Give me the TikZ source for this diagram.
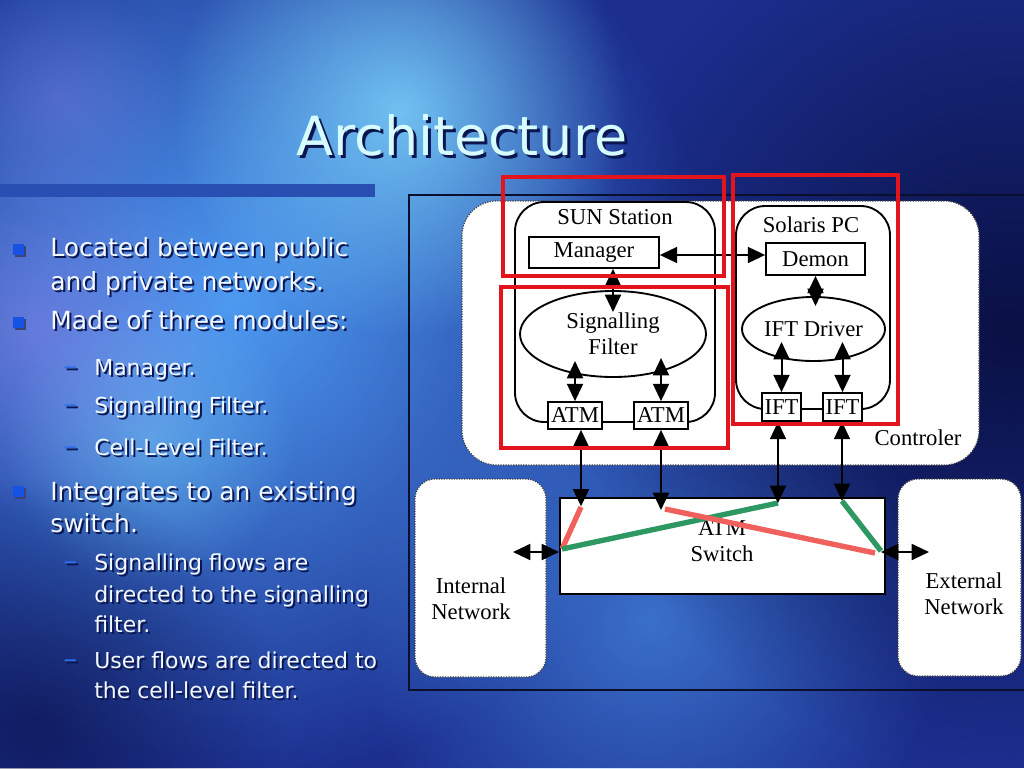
\documentclass[tikz,border=0pt]{standalone}
\usepackage{fontspec}
\newfontfamily\sansf{DejaVu Sans}
\newfontfamily\serf{Liberation Serif}
\usetikzlibrary{arrows.meta,shapes.geometric,fadings}
\definecolor{bgbase}{HTML}{1C2F8F}
\definecolor{glowA}{HTML}{4E9BF2}
\definecolor{glowB}{HTML}{7FD9FF}
\definecolor{glowP}{HTML}{9C8CF4}
\definecolor{darkR}{HTML}{080D3C}
\definecolor{barc}{HTML}{2A4FB2}
\definecolor{titlec}{HTML}{D6FCFF}
\definecolor{textc}{HTML}{F2F8FF}
\definecolor{shadowc}{HTML}{0B1650}
\definecolor{bulletc}{HTML}{1652E4}
\definecolor{dashc}{HTML}{2F6EE6}
\definecolor{boxred}{HTML}{E3141B}
\definecolor{flowr}{HTML}{F0605C}
\definecolor{flowg}{HTML}{2E9862}
\definecolor{framec}{HTML}{0A0F2E}
\tikzfading[name=glowfade, inner color=transparent!0, outer color=transparent!100]
\begin{document}
\begin{tikzpicture}[x=0.75pt,y=-0.75pt,
  dtext/.style={font=\serf\fontsize{17}{19.5}\selectfont, text=black},
  wbox/.style={draw=black, line width=1.3pt, fill=white, inner sep=0pt, dtext},
  dotbox/.style={fill=white, draw=black!75, densely dotted, line width=0.9pt, inner sep=0pt},
  modbox/.style={draw=black, line width=1.4pt, fill=white, rounded corners=22pt, inner sep=0pt},
  oval/.style={ellipse, draw=black, line width=1.4pt, fill=white, inner sep=0pt, dtext, align=center},
  dbl/.style={{Triangle[length=13pt,width=12pt]}-{Triangle[length=13pt,width=12pt]}, line width=1.5pt},
  redbox/.style={draw=boxred, line width=2.3pt, inner sep=0pt},
  flowred/.style={draw=flowr, line width=4pt},
  flowgreen/.style={draw=flowg, line width=4pt},
  bodyt/.style={font=\sansf\fontsize{18.75}{22}\selectfont, anchor=base west, inner sep=0pt},
  subt/.style={font=\sansf\fontsize{16.5}{20}\selectfont, anchor=base west, inner sep=0pt},
  dasht/.style={font=\sansf\fontsize{21}{22}\selectfont, anchor=base west, inner sep=0pt},
  bulletsq/.style={fill=bulletc, minimum size=8.25pt, inner sep=0pt},
  bulletsh/.style={fill=shadowc!80, minimum size=8.25pt, inner sep=0pt}]
\useasboundingbox (0,0) rectangle (1024,768);
\clip (0,0) rectangle (1024,768);
% background
\fill[bgbase] (0,0) rectangle (1024,768);
\fill[glowA, path fading=glowfade] (230,300) circle (360pt);
\fill[glowA, path fading=glowfade, fill opacity=0.6] (650,620) circle (220pt);
\fill[glowB, path fading=glowfade, fill opacity=0.8] (400,110) circle (170pt);
\fill[glowB, path fading=glowfade, fill opacity=0.45] (150,440) circle (110pt);
\fill[glowP, path fading=glowfade, fill opacity=0.45] (40,330) circle (140pt);
\fill[glowP, path fading=glowfade, fill opacity=0.3] (60,100) circle (90pt);
\fill[darkR, path fading=glowfade, fill opacity=0.9] (1010,330) circle (330pt);
\fill[darkR, path fading=glowfade, fill opacity=0.55] (40,720) circle (180pt);
% title and bar
\node[font=\sansf\fontsize{40.5}{44}\selectfont, text=shadowc, anchor=base, inner sep=0pt] (ttls) at (465,158) {Architecture};
\node[font=\sansf\fontsize{40.5}{44}\selectfont, text=titlec, anchor=base, inner sep=0pt] (ttl) at (462,155) {Architecture};
\fill[barc] (0,184) rectangle (375,197);
% bullets
\node[bulletsh] (b1s) at (20,251) {};
\node[bulletsq] (b1) at (18.5,249) {};
\node[bulletsh] (b2s) at (20,324.5) {};
\node[bulletsq] (b2) at (18.5,322.5) {};
\node[bulletsh] (b3s) at (20,493) {};
\node[bulletsq] (b3) at (18.5,491) {};
% body text with shadow
\foreach \o/\tc/\dc/\nm in {2/shadowc/shadowc/s, 0/textc/dashc/t} {
 \begin{scope}[shift={(\o,\o)}]
  \node[bodyt, text=\tc] (L\nm1) at (50,256) {Located between public};
  \node[bodyt, text=\tc] (L\nm2) at (50,290) {and private networks.};
  \node[bodyt, text=\tc] (L\nm3) at (50,329) {Made of three modules:};
  \node[dasht, text=\dc] (D\nm1) at (63,375) {–};
  \node[subt, text=\tc] (L\nm4) at (94,375) {Manager.};
  \node[dasht, text=\dc] (D\nm2) at (63,413) {–};
  \node[subt, text=\tc] (L\nm5) at (94,413) {Signalling Filter.};
  \node[dasht, text=\dc] (D\nm3) at (63,455) {–};
  \node[subt, text=\tc] (L\nm6) at (94,455) {Cell-Level Filter.};
  \node[bodyt, text=\tc] (L\nm7) at (50,500) {Integrates to an existing};
  \node[bodyt, text=\tc] (L\nm8) at (50,532) {switch.};
  \node[dasht, text=\dc] (D\nm4) at (63,570) {–};
  \node[subt, text=\tc] (L\nm9) at (94,570) {Signalling flows are};
  \node[subt, text=\tc] (L\nm10) at (94,602) {directed to the signalling};
  \node[subt, text=\tc] (L\nm11) at (94,632) {filter.};
  \node[dasht, text=\dc] (D\nm5) at (63,668) {–};
  \node[subt, text=\tc] (L\nm12) at (94,668) {User flows are directed to};
  \node[subt, text=\tc] (L\nm13) at (94,698) {the cell-level filter.};
 \end{scope}
}
% diagram frame
\draw[framec, line width=0.8pt] (409,195) rectangle (1040,690);
% controller and networks
\node[dotbox, rounded corners=26pt, minimum width=387.75pt, minimum height=198pt] (ctrl) at (720.5,333) {};
\node[dtext, anchor=center, inner sep=0pt] (ctrllbl) at (918,438) {Controler};
\node[dotbox, rounded corners=15pt, minimum width=98.25pt, minimum height=148.5pt] (intnet) at (480.5,578) {};
\node[dtext, align=center, inner sep=0pt] (intlbl) at (471,599) {Internal\\Network};
\node[dotbox, rounded corners=15pt, minimum width=92.25pt, minimum height=147.75pt] (extnet) at (959.5,577.5) {};
\node[dtext, align=center, inner sep=0pt] (extlbl) at (964,594) {External\\Network};
% switch
\node[draw=black, line width=1.5pt, fill=white, minimum width=243.75pt, minimum height=72pt, inner sep=0pt] (switch) at (722.5,546) {};
\node[dtext, align=center, inner sep=0pt] (swlbl) at (722,541) {ATM\\Switch};
% module boxes
\node[modbox, minimum width=150pt, minimum height=165pt] (sun) at (615,312) {};
\node[dtext, inner sep=0pt] (sunlbl) at (615,217) {SUN Station};
\node[modbox, minimum width=115.5pt, minimum height=152.25pt] (sol) at (813,307.5) {};
\node[dtext, inner sep=0pt] (sollbl) at (811,225) {Solaris PC};
% inner nodes
\node[wbox, minimum width=97.5pt, minimum height=23.25pt] (manager) at (594,252.5) {Manager};
\node[wbox, minimum width=74.25pt, minimum height=24pt] (demon) at (815.5,259) {Demon};
\node[oval, minimum width=139.5pt, minimum height=64.5pt] (sigf) at (613,334) {Signalling\\Filter};
\node[oval, minimum width=107.25pt, minimum height=48pt] (iftd) at (813.5,329) {IFT Driver};
\node[wbox, minimum width=40.5pt, minimum height=20.25pt] (atm1) at (575,415.5) {ATM};
\node[wbox, minimum width=40.5pt, minimum height=20.25pt] (atm2) at (661,415.5) {ATM};
\node[wbox, minimum width=29.25pt, minimum height=21pt] (ift1) at (781.5,407) {IFT};
\node[wbox, minimum width=29.25pt, minimum height=21pt] (ift2) at (842.5,407) {IFT};
% inner arrows (tips reach into the ovals)
\draw[dbl] (manager.east |- 0,255) -- (demon.west |- 0,255);
\draw[dbl] (manager.south -| sigf.north) -- (sigf.north |- 0,312);
\draw[dbl] (demon.south) -- (demon.south |- 0,306);
\draw[dbl] (atm1.north) -- (atm1.north |- 0,361);
\draw[dbl] (atm2.north) -- (atm2.north |- 0,358);
\draw[dbl] (ift1.north) -- (ift1.north |- 0,342);
\draw[dbl] (ift2.north) -- (ift2.north |- 0,342);
% flows in the switch
\coordinate (fa) at (581,507);
\coordinate (fb) at (562,549);
\coordinate (fc) at (778,503);
\coordinate (fd) at (665,509);
\coordinate (fe) at (875,553);
\coordinate (ff) at (842,501);
\coordinate (fg) at (881,551);
\draw[flowred] (fa) -- (fb);
\draw[flowgreen] (fb) -- (fc);
\draw[flowred] (fd) -- (fe);
\draw[flowgreen] (ff) -- (fg);
% vertical links to the switch
\draw[dbl] (atm1.south -| fa) -- ([yshift=0.5pt]fa);
\draw[dbl] (atm2.south) -- (atm2.south |- 0,510);
\draw[dbl] (ift1.south -| fc) -- (fc);
\draw[dbl] (ift2.south -| ff) -- (ff);
% network links
\coordinate (inL) at (513,552);
\coordinate (exR) at (929,552);
\draw[dbl] (inL) -- (inL -| switch.west);
\draw[dbl] (exR -| fg) -- (exR);
% red highlight boxes
\node[redbox, minimum width=165.75pt, minimum height=74.25pt] (r1) at (613.5,226.5) {};
\node[redbox, minimum width=170.25pt, minimum height=120.75pt] (r2) at (614.5,367.5) {};
\node[redbox, minimum width=123.75pt, minimum height=186.75pt] (r3) at (815.5,299.5) {};
\end{tikzpicture}
\end{document}
